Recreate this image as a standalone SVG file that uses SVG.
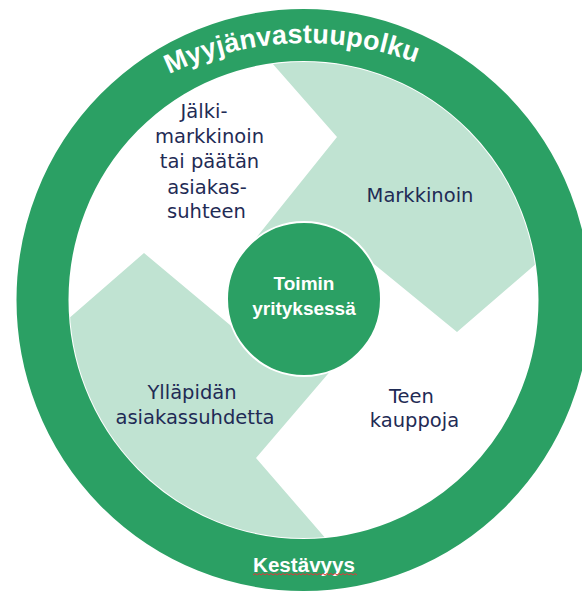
<svg xmlns="http://www.w3.org/2000/svg" width="582" height="593" viewBox="0 0 582 593">
  <defs>
    <clipPath id="inner">
      <ellipse cx="303.5" cy="300" rx="234" ry="238"/>
    </clipPath>
    <path id="arcTop" d="M -10 359 A 316 316 0 0 1 622 359" fill="none"/>
    <style>
      .light { fill: #C0E3D2; }
      .green { fill: #2BA064; }
      .navy { font-family: "DejaVu Sans", "Liberation Sans", sans-serif; font-size: 19.5px; fill: #1F2B55; text-anchor: middle; }
      .white { font-family: "Liberation Sans", Arial, sans-serif; font-weight: bold; fill: #FFFFFF; text-anchor: middle; }
    </style>
  </defs>
  <rect x="0" y="0" width="582" height="593" fill="#FFFFFF"/>

  <g id="quadrants" clip-path="url(#inner)">
    <polygon id="markkinoin-area" class="light" points="246,33 272,63 337,137 252,243 304,299 369,260 457,332 537,263 570,235 620,235 620,-20 246,-20"/>
    <polygon id="yllapidan-area" class="light" points="40,343 68,319 144,253 236,330 304,299 333,368 256,458 327,540 345,562 345,620 -20,620 -20,343"/>
  </g>

  <g id="ring">
    <ellipse cx="303.5" cy="300" rx="261" ry="265" fill="none" stroke="#2BA064" stroke-width="52"/>
    <text class="white" font-size="27"><textPath href="#arcTop" startOffset="481.5" textLength="254" lengthAdjust="spacing">Myyjänvastuupolku</textPath></text>
    <text class="white" x="304" y="572" font-size="20" textLength="102" lengthAdjust="spacingAndGlyphs">Kestävyys</text>
    <path d="M253 575 l2 -1.5 l2 1.5 l2 -1.5 l2 1.5 l2 -1.5 l2 1.5 l2 -1.5 l2 1.5 l2 -1.5 l2 1.5 l2 -1.5 l2 1.5 l2 -1.5 l2 1.5 l2 -1.5 l2 1.5 l2 -1.5 l2 1.5 l2 -1.5 l2 1.5 l2 -1.5 l2 1.5 l2 -1.5 l2 1.5 l2 -1.5 l2 1.5 l2 -1.5 l2 1.5 l2 -1.5 l2 1.5 l2 -1.5 l2 1.5 l2 -1.5 l2 1.5 l2 -1.5 l2 1.5 l2 -1.5 l2 1.5 l2 -1.5 l2 1.5 l2 -1.5 l2 1.5 l2 -1.5 l2 1.5 l2 -1.5 l2 1.5 l2 -1.5 l2 1.5 l2 -1.5 l2 1.5 l2 -1.5 l2 1.5" fill="none" stroke="#E03A3A" stroke-width="1"/>
  </g>

  <g id="center">
    <circle cx="304" cy="299" r="77" fill="#2BA064" stroke="#FFFFFF" stroke-width="2"/>
    <text class="white" x="304" y="290" font-size="19">Toimin</text>
    <text class="white" x="304" y="315" font-size="19">yrityksessä</text>
  </g>

  <g id="label-jalkimarkkinoin">
    <text class="navy" x="204" y="118">Jälki-</text>
    <text class="navy" x="209.5" y="143">markkinoin</text>
    <text class="navy" x="209.5" y="168">tai päätän</text>
    <text class="navy" x="207" y="194">asiakas-</text>
    <text class="navy" x="206.5" y="218">suhteen</text>
  </g>

  <g id="label-markkinoin">
    <text class="navy" x="420" y="202">Markkinoin</text>
  </g>

  <g id="label-yllapidan">
    <text class="navy" x="192" y="399">Ylläpidän</text>
    <text class="navy" x="195" y="424">asiakassuhdetta</text>
  </g>

  <g id="label-teen">
    <text class="navy" x="411.5" y="403">Teen</text>
    <text class="navy" x="414.5" y="427">kauppoja</text>
  </g>
</svg>
